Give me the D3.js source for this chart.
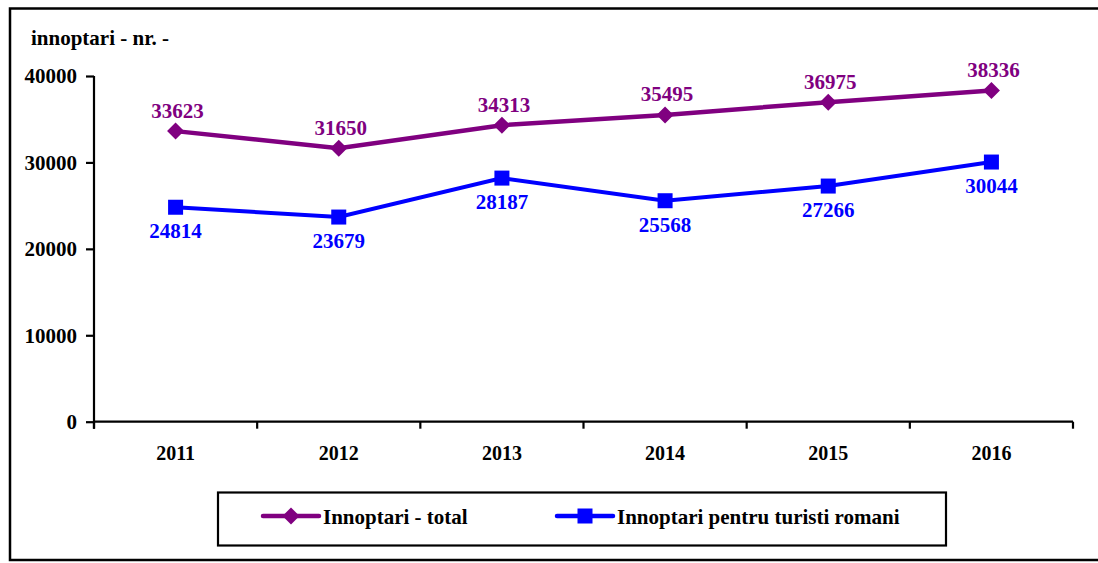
<!DOCTYPE html>
<html>
<head>
<meta charset="utf-8">
<script src="https://cdn.jsdelivr.net/npm/d3@7"></script>
<style>
  html, body { margin: 0; padding: 0; background: #fff; }
  svg { display: block; }
  text { font-family: "Liberation Serif", "Times New Roman", serif; font-weight: bold; }
</style>
</head>
<body>
<svg id="chart" width="1098" height="563"></svg>
<script>
const years = ["2011", "2012", "2013", "2014", "2015", "2016"];
const totalValues = [33623, 31650, 34313, 35495, 36975, 38336];
const romanianValues = [24814, 23679, 28187, 25568, 27266, 30044];
const yTickValues = [0, 10000, 20000, 30000, 40000];
const yAxisTitle = "innoptari - nr. -";
const seriesNames = ["Innoptari - total", "Innoptari pentru turisti romani"];

const svg = d3.select("#chart");
const purple = "#800080", blue = "#0000FF";

// outer frame
svg.append("rect").attr("x", 10).attr("y", 8.5).attr("width", 1110).attr("height", 551.5)
  .attr("fill", "none").attr("stroke", "#000").attr("stroke-width", 2.5);

const x = d3.scaleBand().domain(years).range([94, 1073]).paddingInner(0).paddingOuter(0);
const y = d3.scaleLinear().domain([0, 40000]).range([421.7, 76]);
const cx = d => x(d) + x.bandwidth() / 2;

// y axis
const yAxis = d3.axisLeft(y).tickValues(yTickValues).tickSize(8).tickPadding(9).tickFormat(d3.format("d"));
const gy = svg.append("g").attr("transform", "translate(94,0)").call(yAxis);
gy.select(".domain").attr("stroke", "#000").attr("stroke-width", 2.2).attr("d", `M0,${y(40000)}V${y(0)+7}`);
gy.selectAll(".tick line").attr("stroke", "#000").attr("stroke-width", 2.2);
gy.selectAll(".tick text").attr("font-size", 21).attr("fill", "#000")
  .attr("font-family", "Liberation Serif").attr("font-weight", "bold");

// x axis
const xAxis = d3.axisBottom(x).tickSize(0).tickPadding(24);
const gx = svg.append("g").attr("transform", `translate(0,${y(0)})`).call(xAxis);
gx.select(".domain").attr("stroke", "#000").attr("stroke-width", 2.2).attr("d", `M${x.range()[0]},0H${x.range()[1]}`);
gx.selectAll(".tick text").attr("font-size", 20).attr("fill", "#000")
  .attr("font-family", "Liberation Serif").attr("font-weight", "bold");
const boundaries = years.map(d => x(d)).concat([x(years[years.length - 1]) + x.step()]);
gx.selectAll("line.bound").data(boundaries).enter().append("line")
  .attr("class", "bound").attr("x1", d => d).attr("x2", d => d).attr("y1", 0).attr("y2", 7)
  .attr("stroke", "#000").attr("stroke-width", 2.2);

// title
svg.append("text").attr("x", 31).attr("y", 45).attr("font-size", 21).attr("fill", "#000").text(yAxisTitle);

const line = d3.line().x((d, i) => cx(years[i])).y(d => y(d));

// total series
svg.append("path").datum(totalValues).attr("d", line).attr("fill", "none")
  .attr("stroke", purple).attr("stroke-width", 4.5);
const diamond = s => `M0,${-s}L${s},0L0,${s}L${-s},0Z`;
svg.selectAll("path.dia").data(totalValues).enter().append("path").attr("class", "dia")
  .attr("d", diamond(8.5)).attr("fill", purple)
  .attr("transform", (d, i) => `translate(${cx(years[i])},${y(d)})`);
svg.selectAll("text.lt").data(totalValues).enter().append("text").attr("class", "lt")
  .attr("x", (d, i) => cx(years[i]) + 2).attr("y", d => y(d) - 13.5)
  .attr("text-anchor", "middle").attr("font-size", 21).attr("fill", purple).text(d => d);

// romanian series
svg.append("path").datum(romanianValues).attr("d", line).attr("fill", "none")
  .attr("stroke", blue).attr("stroke-width", 4);
svg.selectAll("rect.sq").data(romanianValues).enter().append("rect").attr("class", "sq")
  .attr("x", (d, i) => cx(years[i]) - 7.5).attr("y", d => y(d) - 7.5)
  .attr("width", 15).attr("height", 15).attr("fill", blue);
svg.selectAll("text.lr").data(romanianValues).enter().append("text").attr("class", "lr")
  .attr("x", (d, i) => cx(years[i])).attr("y", d => y(d) + 31)
  .attr("text-anchor", "middle").attr("font-size", 21).attr("fill", blue).text(d => d);

// legend
const lg = svg.append("g");
lg.append("rect").attr("x", 218).attr("y", 492.5).attr("width", 728).attr("height", 53)
  .attr("fill", "#fff").attr("stroke", "#000").attr("stroke-width", 2.2);
const legendItems = [
  { name: seriesNames[0], color: purple, x0: 263, marker: "diamond" },
  { name: seriesNames[1], color: blue, x0: 557, marker: "square" }
];
legendItems.forEach(it => {
  lg.append("line").attr("x1", it.x0).attr("x2", it.x0 + 56).attr("y1", 516).attr("y2", 516)
    .attr("stroke", it.color).attr("stroke-width", 4.5).attr("stroke-linecap", "round");
  if (it.marker === "diamond") {
    lg.append("path").attr("d", diamond(8.5)).attr("fill", it.color)
      .attr("transform", `translate(${it.x0 + 28},516)`);
  } else {
    lg.append("rect").attr("x", it.x0 + 20.5).attr("y", 508.5).attr("width", 15).attr("height", 15).attr("fill", it.color);
  }
  lg.append("text").attr("x", it.x0 + 60).attr("y", 524).attr("font-size", 21).attr("fill", "#000").text(it.name);
});
</script>
</body>
</html>
